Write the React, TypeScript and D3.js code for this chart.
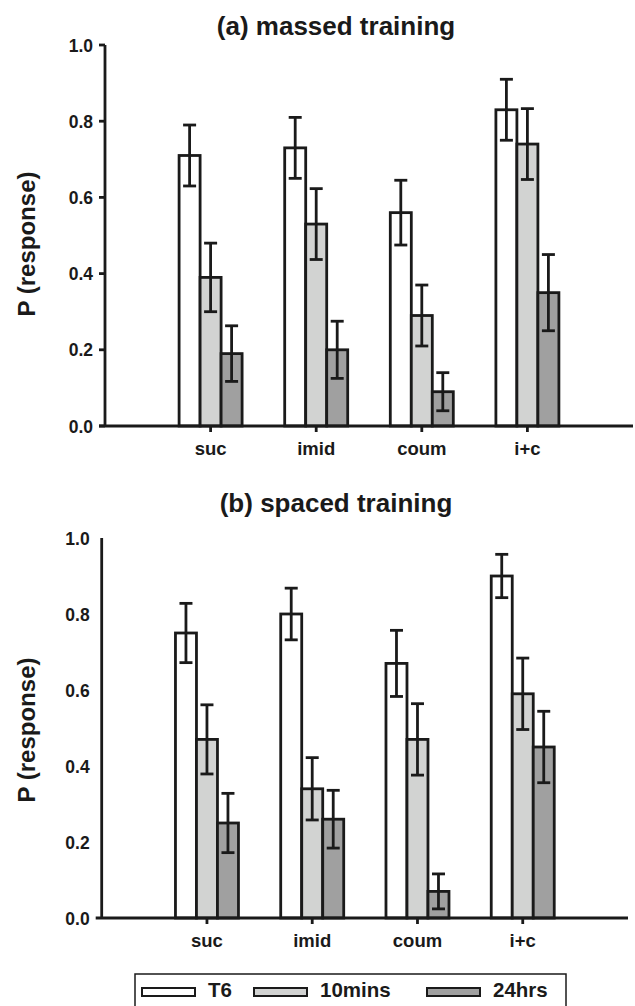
import * as d3 from "d3";

// categories and series
const categories = ["suc", "imid", "coum", "i+c"];
const seriesNames = ["T6", "10mins", "24hrs"];
const seriesColors = ["#ffffff", "#d2d3d2", "#a0a0a0"];
const yTicks = [0, 0.2, 0.4, 0.6, 0.8, 1.0];

// (a) massed training
const massedT6 = [0.71, 0.73, 0.56, 0.83];
const massed10 = [0.39, 0.53, 0.29, 0.74];
const massed24 = [0.19, 0.2, 0.09, 0.35];
const massedT6Err = [0.08, 0.08, 0.085, 0.08];
const massed10Err = [0.09, 0.093, 0.08, 0.093];
const massed24Err = [0.073, 0.075, 0.05, 0.1];

// (b) spaced training
const spacedT6 = [0.75, 0.8, 0.67, 0.9];
const spaced10 = [0.47, 0.34, 0.47, 0.59];
const spaced24 = [0.25, 0.26, 0.07, 0.45];
const spacedT6Err = [0.078, 0.068, 0.087, 0.057];
const spaced10Err = [0.091, 0.082, 0.094, 0.094];
const spaced24Err = [0.078, 0.076, 0.046, 0.094];

const FONT = "'Liberation Sans', Arial, Helvetica, sans-serif";
const INK = "#1a1a1a";
const SW = 2.8;

type PanelProps = {
  title: string;
  values: number[][];
  errors: number[][];
  left: number;
  right: number;
  top: number;
  bottom: number;
  titleY: number;
  labelY: number;
  showYTicks: boolean;
};

function Panel(p: PanelProps) {
  const x = d3.scaleLinear().domain([0, categories.length + 1]).range([p.left, p.right]);
  const y = d3.scaleLinear().domain([0, 1]).range([p.bottom, p.top]);
  const barW = 21;
  const groupW = barW * seriesNames.length;

  return (
    <g>
      <text x={336} y={p.titleY} textAnchor="middle" fontFamily={FONT} fontWeight="bold" fontSize={26} fill={INK}>
        {p.title}
      </text>
      <text
        transform={`translate(35,${p.labelY}) rotate(-90)`}
        textAnchor="middle"
        fontFamily={FONT}
        fontWeight="bold"
        fontSize={24}
        fill={INK}
      >
        P (response)
      </text>

      {/* y axis */}
      <line x1={p.left} x2={p.left} y1={y(1)} y2={y(0)} stroke={INK} strokeWidth={SW} />
      {yTicks.map((t) => (
        <g key={t}>
          {p.showYTicks && (
            <line x1={p.left - 6} x2={p.left} y1={y(t)} y2={y(t)} stroke={INK} strokeWidth={SW} />
          )}
          <text
            x={p.left - 12}
            y={y(t)}
            dy="0.38em"
            textAnchor="end"
            fontFamily={FONT}
            fontWeight="bold"
            fontSize={17.5}
            fill={INK}
          >
            {d3.format(".1f")(t)}
          </text>
        </g>
      ))}

      {/* bars */}
      {categories.map((c, ci) => {
        const x0 = x(ci + 1) - groupW / 2;
        return (
          <g key={c}>
            {seriesNames.map((s, si) => {
              const v = p.values[si][ci];
              return (
                <rect
                  key={s}
                  x={x0 + si * barW}
                  y={y(v)}
                  width={barW}
                  height={y(0) - y(v)}
                  fill={seriesColors[si]}
                  stroke={INK}
                  strokeWidth={SW}
                />
              );
            })}
            {seriesNames.map((s, si) => {
              const v = p.values[si][ci];
              const e = p.errors[si][ci];
              const cx = x0 + si * barW + barW / 2;
              return (
                <g key={s + "err"} stroke={INK} strokeWidth={SW}>
                  <line x1={cx} x2={cx} y1={y(v + e)} y2={y(v - e)} />
                  <line x1={cx - 6.5} x2={cx + 6.5} y1={y(v + e)} y2={y(v + e)} />
                  <line x1={cx - 6.5} x2={cx + 6.5} y1={y(v - e)} y2={y(v - e)} />
                </g>
              );
            })}
          </g>
        );
      })}

      {/* x axis */}
      <line x1={p.left - 6} x2={p.right} y1={y(0)} y2={y(0)} stroke={INK} strokeWidth={SW} />
      {categories.map((c, ci) => (
        <g key={c + "tick"}>
          <line x1={x(ci + 1)} x2={x(ci + 1)} y1={y(0)} y2={y(0) + 6} stroke={INK} strokeWidth={SW} />
          <text
            x={x(ci + 1)}
            y={y(0) + 29}
            textAnchor="middle"
            fontFamily={FONT}
            fontWeight="bold"
            fontSize={18.5}
            fill={INK}
          >
            {c}
          </text>
        </g>
      ))}
    </g>
  );
}

function Legend() {
  const itemX = [142, 254, 427];
  return (
    <g>
      <rect x={135} y={974} width={431} height={40} fill="#fff" stroke={INK} strokeWidth={1.5} />
      {seriesNames.map((s, i) => (
        <g key={s}>
          <rect x={itemX[i]} y={988} width={53} height={8} fill={seriesColors[i]} stroke={INK} strokeWidth={2} />
          <text
            x={itemX[i] + 66}
            y={997}
            fontFamily={FONT}
            fontWeight="bold"
            fontSize={20.5}
            fill={INK}
          >
            {s}
          </text>
        </g>
      ))}
    </g>
  );
}

export default function App() {
  return (
    <svg
      width={635}
      height={1006}
      style={{ position: "absolute", left: 0, top: 0, background: "#fff" }}
    >
      <Panel
        title="(a) massed training"
        values={[massedT6, massed10, massed24]}
        errors={[massedT6Err, massed10Err, massed24Err]}
        left={105}
        right={633}
        top={45}
        bottom={426}
        titleY={35}
        labelY={244}
        showYTicks={true}
      />
      <Panel
        title="(b) spaced training"
        values={[spacedT6, spaced10, spaced24]}
        errors={[spacedT6Err, spaced10Err, spaced24Err]}
        left={101.7}
        right={628}
        top={538}
        bottom={918}
        titleY={512}
        labelY={730}
        showYTicks={false}
      />
      <Legend />
    </svg>
  );
}
